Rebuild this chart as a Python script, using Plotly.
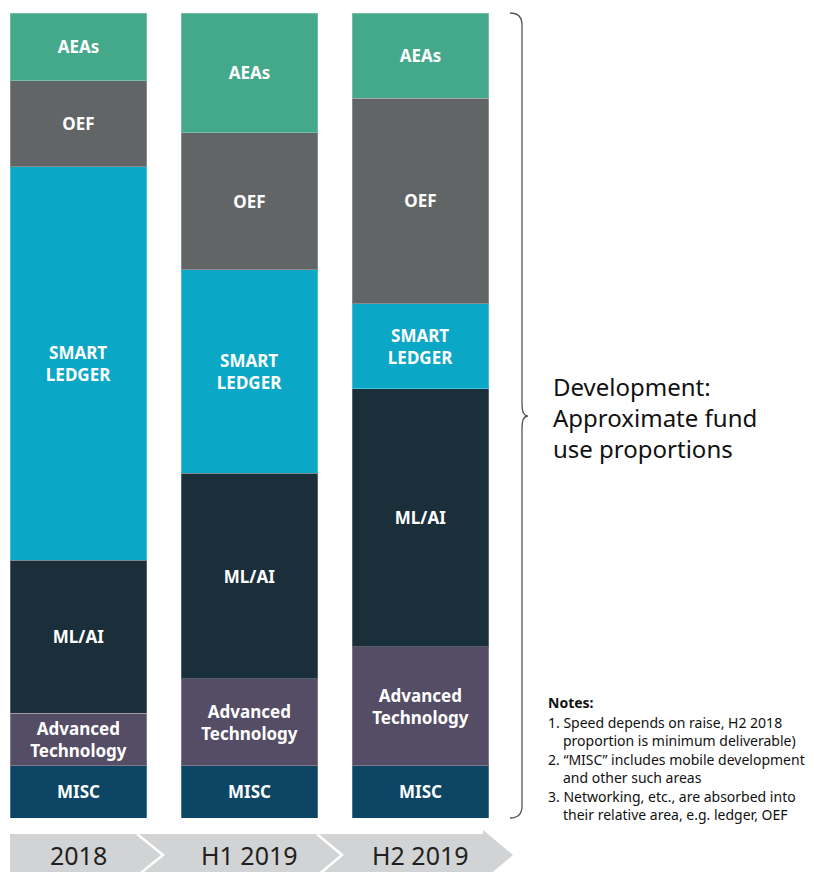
import plotly.graph_objects as go

W, H = 814, 872

# data (approximate share of development funds, %)
periods = ["2018", "H1 2019", "H2 2019"]
segments = ["MISC", "Advanced Technology", "ML/AI", "SMART LEDGER", "OEF", "AEAs"]
labels = ["MISC", "Advanced<br>Technology", "ML/AI", "SMART<br>LEDGER", "OEF", "AEAs"]
misc = [6.5, 6.5, 6.5]
adv_tech = [6.5, 10.8, 14.8]
ml_ai = [19.0, 25.5, 32.0]
smart_ledger = [48.9, 25.3, 10.6]
oef = [10.7, 17.0, 25.5]
aeas = [8.4, 14.9, 10.6]
colors = ["#0C4664", "#554D66", "#1B2F3A", "#0BA7C6", "#616566", "#44A88A"]

notes = [
    "1. Speed depends on raise, H2 2018",
    "proportion is minimum deliverable)",
    "2. \u201cMISC\u201d includes mobile development",
    "and other such areas",
    "3. Networking, etc., are absorbed into",
    "their relative area, e.g. ledger, OEF",
]


def px(x):
    return x / W


def py(y):
    return 1 - y / H


fig = go.Figure()

values = [misc, adv_tech, ml_ai, smart_ledger, oef, aeas]
for name, lab, vals, col in zip(segments, labels, values, colors):
    fig.add_trace(go.Bar(
        x=periods, y=vals, name=name,
        marker=dict(color=col, line=dict(color="rgba(255,255,255,0.25)", width=1)),
        text=[lab] * len(periods), texttemplate="%{text}",
        textposition="inside", insidetextanchor="middle", textangle=0,
        textfont=dict(family="Noto Sans", size=17, color="white", weight="bold"),
        width=0.8, hoverinfo="skip",
    ))

fig.update_layout(
    barmode="stack", width=W, height=H, showlegend=False,
    margin=dict(l=0, r=0, t=0, b=0),
    paper_bgcolor="white", plot_bgcolor="white",
    uniformtext=dict(minsize=17, mode="show"),
    font=dict(family="Noto Sans", color="#1a1a1a"),
)
fig.update_xaxes(type="category", range=[-0.4, 2.5], domain=[px(10.1), px(506)], visible=False)
fig.update_yaxes(range=[0, 100], domain=[py(818), py(13)], visible=False)

# chevron timeline band
fig.add_shape(type="path", xref="paper", yref="paper",
              path=f"M {px(10)},{py(834)} L {px(483)},{py(834)} L {px(483)},{py(830)} "
                   f"L {px(513)},{py(855)} L {px(483)},{py(880)} L {px(10)},{py(880)} Z",
              fillcolor="#D1D3D4", line=dict(width=0), layer="below")
for x0, x1 in [(137, 163), (317, 342)]:
    fig.add_shape(type="path", xref="paper", yref="paper",
                  path=f"M {px(x0)},{py(834)} L {px(x1)},{py(855)} L {px(x0)},{py(876)}",
                  line=dict(color="white", width=2.5))
for i, p in enumerate(periods):
    fig.add_annotation(x=i, xref="x", y=py(855), yref="paper", text=p, showarrow=False,
                       font=dict(size=25, color="#231F20"), yanchor="middle")

# curly brace
fig.add_shape(type="path", xref="paper", yref="paper",
              path=f"M {px(510)},{py(13)} Q {px(522)},{py(13)} {px(522)},{py(25)} "
                   f"L {px(522)},{py(404)} Q {px(522)},{py(416)} {px(528)},{py(416)} "
                   f"Q {px(522)},{py(416)} {px(522)},{py(428)} "
                   f"L {px(522)},{py(806)} Q {px(522)},{py(818)} {px(510)},{py(818)}",
              line=dict(color="#555555", width=1.3))

fig.add_annotation(x=px(551), y=py(418), xref="paper", yref="paper", xanchor="left", yanchor="middle",
                   align="left", showarrow=False,
                   text="Development:<br>Approximate fund<br>use proportions",
                   font=dict(size=24, color="#111111"))

fig.add_annotation(x=px(546), y=py(702.5), xref="paper", yref="paper", xanchor="left", yanchor="middle",
                   showarrow=False, text="<b>Notes:</b>", font=dict(size=14, color="#111111"))
for i, line in enumerate(notes):
    indent = 546 if i % 2 == 0 else 561
    fig.add_annotation(x=px(indent), y=py(722 + i * 18.5), xref="paper", yref="paper",
                       xanchor="left", yanchor="middle", showarrow=False, text=line,
                       font=dict(size=14, color="#111111"))

fig.write_html("out.html", config={"displayModeBar": False},
               post_script="document.body.style.margin = '0';")
